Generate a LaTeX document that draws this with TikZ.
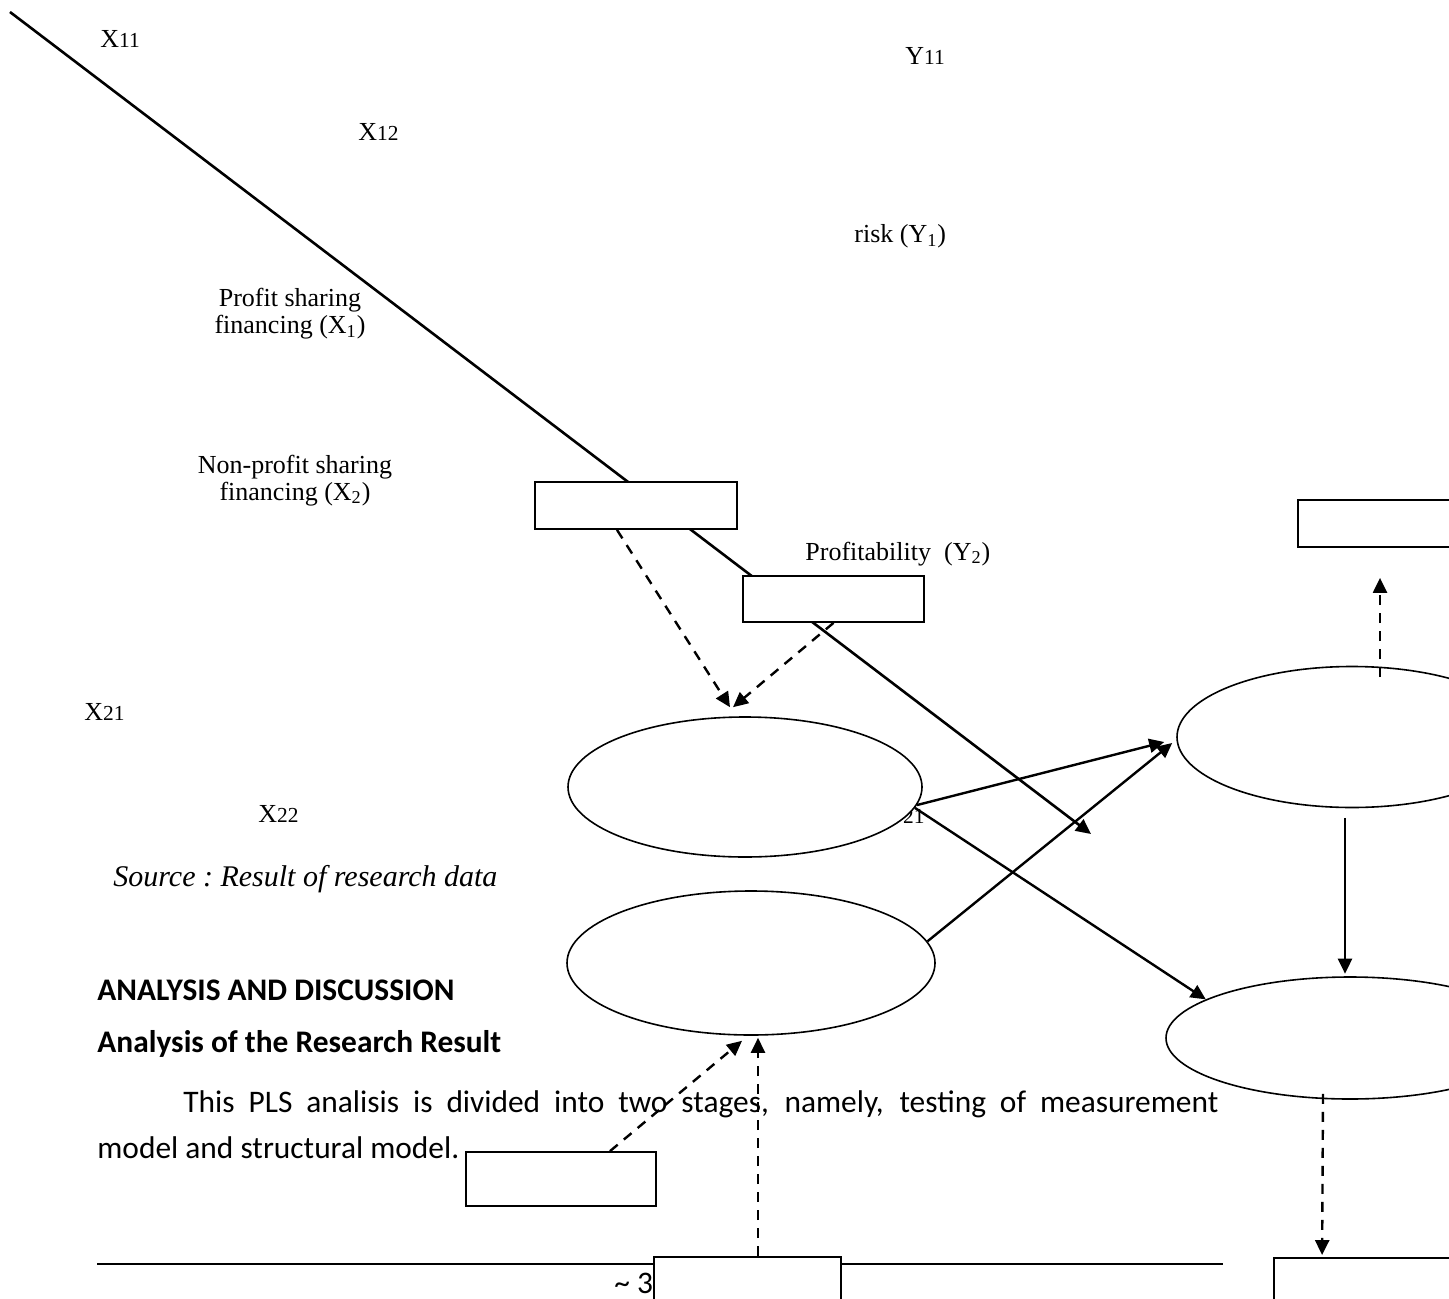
\documentclass[tikz,border=0pt]{standalone}
\usepackage{fontspec}
\setmainfont{Liberation Serif}
\newfontfamily\calibri{Carlito}
\usetikzlibrary{arrows.meta,positioning,shapes.geometric}

\newcommand{\smalldig}[1]{{\fontsize{10.7}{12}\selectfont #1}}

\begin{document}
\begin{tikzpicture}[
    x=0.5pt, y=-0.5pt,
    lbl/.style={anchor=base west, inner sep=0pt, font=\fontsize{13}{13.5}\selectfont},
    twoline/.style={anchor=base, inner sep=0pt, align=center, font=\fontsize{13}{13.5}\selectfont},
    box/.style={rectangle, draw=black, fill=white, line width=0.9pt, inner sep=0pt},
    latent/.style={ellipse, draw=black, fill=white, line width=0.8pt, inner sep=0pt},
    arrow/.style={-{Triangle[length=7.5pt,width=7pt]}, line width=1.2pt},
    dasharrow/.style={arrow, dash pattern=on 5pt off 4pt},
    body/.style={anchor=base west, inner sep=0pt, font=\calibri\fontsize{15.7}{23}\selectfont}
]
\useasboundingbox (0,0) rectangle (1449,1299);

% Labels
\node[lbl] (x11) at (100,48) {X\smalldig{11}};
\node[lbl] (x12) at (358,141) {X\smalldig{12}};
\node[lbl] (y11) at (905,65) {Y\smalldig{11}};
\node[lbl] (risk) at (854,243) {risk (Y\textsubscript{1})};
\node[twoline] (x1name) at (290,334) {Profit sharing\\financing (X\textsubscript{1})};
\node[twoline] (x2name) at (295,500) {Non-profit sharing\\financing (X\textsubscript{2})};
\node[lbl] (y2name) at (805,560) {Profitability\ \ (Y\textsubscript{2})};
\node[lbl] (x21) at (84,720) {X\smalldig{21}};
\node[lbl] (x22) at (258,822) {X\smalldig{22}};
\node[lbl] (y21) at (884,823) {Y\smalldig{21}};

% Page text
\node[anchor=base west, inner sep=0pt, font=\fontsize{15}{17}\selectfont\itshape] (src) at (113,886) {Source :\ Result of research data};
\node[body, font=\calibri\bfseries\fontsize{15.7}{17}\selectfont] (head1) at (97,1000) {ANALYSIS AND DISCUSSION};
\node[body, font=\calibri\bfseries\fontsize{15.7}{17}\selectfont] (head2) at (97,1052) {Analysis of the Research Result};
\node[body, text width=517.5pt, align=justify] (para1) at (183,1112) {\parfillskip=0pt This PLS analisis is divided into two stages, namely, testing of measurement\par};
\node[body] (para2) at (97,1158) {model and structural model.};
\node[body] (pageno) at (614,1293) {\textasciitilde\ 3};

% Footer rule
\coordinate (footL) at (97,1264);
\coordinate (footR) at (1223,1264);
\draw[line width=0.75pt] (footL) -- (footR);

% Long line
\coordinate (lstart) at (10,12);
\coordinate (lend) at (1091,834);
\draw[arrow, line width=1.3pt] (lstart) -- (lend);

% Indicator boxes
\node[box, minimum width=101pt, minimum height=23.5pt] (ind11) at (636,505.5) {};
\node[box, minimum width=90.5pt, minimum height=23pt] (ind12) at (833.5,599) {};
\node[box, minimum width=95pt, minimum height=27pt] (ind21) at (561,1179) {};
\node[box, minimum width=93.5pt, minimum height=31.5pt] (ind22) at (747.5,1288.5) {};
\node[box, minimum width=81pt, minimum height=23.5pt] (indY11) at (1379,523.5) {};
\node[box, minimum width=93pt, minimum height=31pt] (indY21) at (1367,1289) {};

% Latent variables
\node[latent, minimum width=177pt, minimum height=70pt] (lvX1) at (745,787) {};
\node[latent, minimum width=184pt, minimum height=72pt] (lvX2) at (751,963) {};
\node[latent, minimum width=175pt, minimum height=70.5pt] (lvY1) at (1352,737) {};
\node[latent, minimum width=184pt, minimum height=61pt] (lvY2) at (1350,1038) {};

% Measurement arrows
\draw[dasharrow] ([xshift=-9.5pt]ind11.south) -- ([xshift=-7.5pt,yshift=4.5pt]lvX1.north);
\draw[dasharrow] (ind12.south) -- ([xshift=-6pt,yshift=4.5pt]lvX1.north);
\draw[dasharrow] ([xshift=24.5pt]ind21.north) -- ([xshift=-4.5pt,yshift=-2.5pt]lvX2.south);
\draw[dasharrow] ([xshift=5.25pt]ind22.north) -- ([xshift=3.5pt,yshift=-1pt]lvX2.south);
\draw[dasharrow] ([xshift=14pt,yshift=-5.75pt]lvY1.north) -- ([xshift=0.5pt,yshift=-15pt]indY11.south);
\draw[dasharrow] ([xshift=-13.5pt,yshift=3pt]lvY2.south) -- ([xshift=24.5pt,yshift=1pt]indY21.north west);

% Structural arrows
\draw[arrow] (lvX1.-6) -- ([xshift=-6pt,yshift=-2.5pt]lvY1.west);
\draw[arrow] (lvX2.7) -- ([xshift=-2pt,yshift=-3pt]lvY1.west);
\draw[arrow] (lvX1.-7) -- (lvY2.165);
\draw[arrow] ([xshift=-3.5pt,yshift=-4.75pt]lvY1.south) -- ([xshift=-2.5pt,yshift=1.25pt]lvY2.north);

\end{tikzpicture}
\end{document}
